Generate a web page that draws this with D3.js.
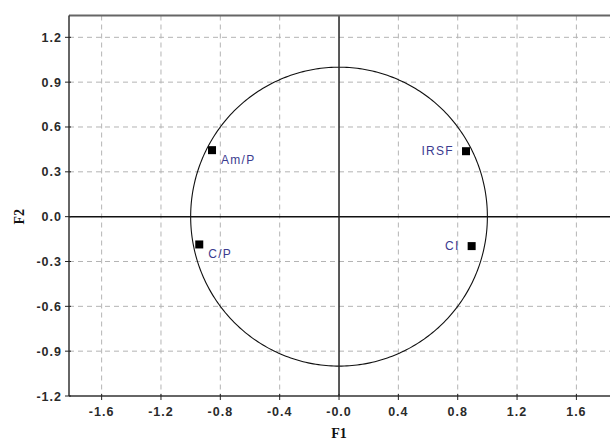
<!DOCTYPE html>
<html>
<head>
<meta charset="utf-8">
<script src="https://cdn.jsdelivr.net/npm/d3@7"></script>
<style>
  body { margin: 0; background: #fff; }
  svg { display: block; }
  .grid line { stroke: #b4b4b4; stroke-width: 1; stroke-dasharray: 5,4; }
  .tick-label { font-family: 'Liberation Sans', Arial, sans-serif; font-size: 12.5px; font-weight: bold; fill: #2a2a2a; letter-spacing: 1px; }
  .axis-title { font-family: 'Liberation Serif', 'Times New Roman', serif; font-size: 14px; font-weight: bold; fill: #111; }
  .point-label { font-family: 'Liberation Sans', Arial, sans-serif; font-size: 12px; fill: #3b3b8f; letter-spacing: 1.3px; }
</style>
</head>
<body>
<svg id="chart" width="610" height="444"></svg>
<script>
// variables and their F1/F2 coordinates
const labels = ['Am/P', 'IRSF', 'C/P', 'CI'];
const f1 = [-0.856, 0.856, -0.942, 0.894];
const f2 = [0.445, 0.438, -0.186, -0.197];
const labelSide = ['right', 'left', 'right', 'left'];

const xTicks = [-1.6, -1.2, -0.8, -0.4, 0, 0.4, 0.8, 1.2, 1.6];
const xTickLabels = ['-1.6', '-1.2', '-0.8', '-0.4', '-0.0', '0.4', '0.8', '1.2', '1.6'];
const yTicks = [1.2, 0.9, 0.6, 0.3, 0, -0.3, -0.6, -0.9, -1.2];
const yTickLabels = ['1.2', '0.9', '0.6', '0.3', '0.0', '-0.3', '-0.6', '-0.9', '-1.2'];

let svg = d3.select('#chart');

let pLeft = 69, pRight = 612, pTop = 15.5, pBottom = 396;

let x = d3.scaleLinear().domain([-1.82, 1.84]).range([pLeft, pRight]);
let y = d3.scaleLinear().domain([-1.2, 1.346]).range([pBottom, pTop]);

// dashed grid (skip zero lines, those are drawn solid)
let grid = svg.append('g').attr('class', 'grid');
grid.selectAll('.gx')
  .data(xTicks.filter(function(d) { return d !== 0; }))
  .enter().append('line')
  .attr('x1', function(d) { return x(d); })
  .attr('x2', function(d) { return x(d); })
  .attr('y1', pTop)
  .attr('y2', pBottom);
grid.selectAll('.gy')
  .data(yTicks.filter(function(d) { return d !== 0 && d !== -1.2; }))
  .enter().append('line')
  .attr('x1', pLeft)
  .attr('x2', pRight)
  .attr('y1', function(d) { return y(d); })
  .attr('y2', function(d) { return y(d); });

// correlation circle
let circle = d3.range(0, 361).map(function(a) {
  let t = a * Math.PI / 180;
  return [Math.cos(t), Math.sin(t)];
});
svg.append('path')
  .datum(circle)
  .attr('fill', 'none')
  .attr('stroke', '#111')
  .attr('stroke-width', 1.1)
  .attr('d', d3.line()
    .x(function(d) { return x(d[0]); })
    .y(function(d) { return y(d[1]); }));

// axes through origin
svg.append('line')
  .attr('x1', pLeft).attr('x2', pRight)
  .attr('y1', y(0)).attr('y2', y(0))
  .attr('stroke', '#111').attr('stroke-width', 1.5);
svg.append('line')
  .attr('x1', x(0)).attr('x2', x(0))
  .attr('y1', pTop).attr('y2', pBottom)
  .attr('stroke', '#222').attr('stroke-width', 1.5);

// frame
svg.append('line')
  .attr('x1', pLeft).attr('x2', pRight)
  .attr('y1', pTop).attr('y2', pTop)
  .attr('stroke', '#666').attr('stroke-width', 2);
svg.append('line')
  .attr('x1', pLeft).attr('x2', pLeft)
  .attr('y1', pTop).attr('y2', pBottom)
  .attr('stroke', '#333').attr('stroke-width', 1.5);
svg.append('line')
  .attr('x1', pLeft).attr('x2', pRight)
  .attr('y1', pBottom).attr('y2', pBottom)
  .attr('stroke', '#333').attr('stroke-width', 1.5);

// ticks and tick labels
svg.selectAll('.xtick')
  .data(xTicks)
  .enter().append('line')
  .attr('x1', function(d) { return x(d); })
  .attr('x2', function(d) { return x(d); })
  .attr('y1', pBottom - 2)
  .attr('y2', pBottom + 4)
  .attr('stroke', '#222');
svg.selectAll('.xlab')
  .data(xTicks)
  .enter().append('text')
  .attr('class', 'tick-label')
  .attr('x', function(d) { return x(d); })
  .attr('y', pBottom + 20)
  .attr('text-anchor', 'middle')
  .text(function(d, i) { return xTickLabels[i]; });

svg.selectAll('.ytick')
  .data(yTicks)
  .enter().append('line')
  .attr('x1', pLeft - 4)
  .attr('x2', pLeft + 2)
  .attr('y1', function(d) { return y(d); })
  .attr('y2', function(d) { return y(d); })
  .attr('stroke', '#222');
svg.selectAll('.ylab')
  .data(yTicks)
  .enter().append('text')
  .attr('class', 'tick-label')
  .attr('x', pLeft - 7)
  .attr('y', function(d) { return y(d) + 4.5; })
  .attr('text-anchor', 'end')
  .text(function(d, i) { return yTickLabels[i]; });

// axis titles
svg.append('text')
  .attr('class', 'axis-title')
  .attr('x', x(0))
  .attr('y', 438)
  .attr('text-anchor', 'middle')
  .text('F1');
svg.append('text')
  .attr('class', 'axis-title')
  .attr('transform', 'translate(24,' + y(0) + ') rotate(-90)')
  .attr('text-anchor', 'middle')
  .text('F2');

// points
let pts = labels.map(function(l, i) {
  return {label: l, f1: f1[i], f2: f2[i], side: labelSide[i]};
});

svg.selectAll('.pt')
  .data(pts)
  .enter().append('rect')
  .attr('x', function(d) { return x(d.f1) - 4; })
  .attr('y', function(d) { return y(d.f2) - 4; })
  .attr('width', 8)
  .attr('height', 8)
  .attr('fill', '#000');

svg.selectAll('.pl')
  .data(pts)
  .enter().append('text')
  .attr('class', 'point-label')
  .attr('x', function(d) { return d.side === 'right' ? x(d.f1) + 9 : x(d.f1) - 12; })
  .attr('y', function(d) { return d.side === 'right' ? y(d.f2) + 14 : y(d.f2) + 4; })
  .attr('text-anchor', function(d) { return d.side === 'right' ? 'start' : 'end'; })
  .text(function(d) { return d.label; });
</script>
</body>
</html>
